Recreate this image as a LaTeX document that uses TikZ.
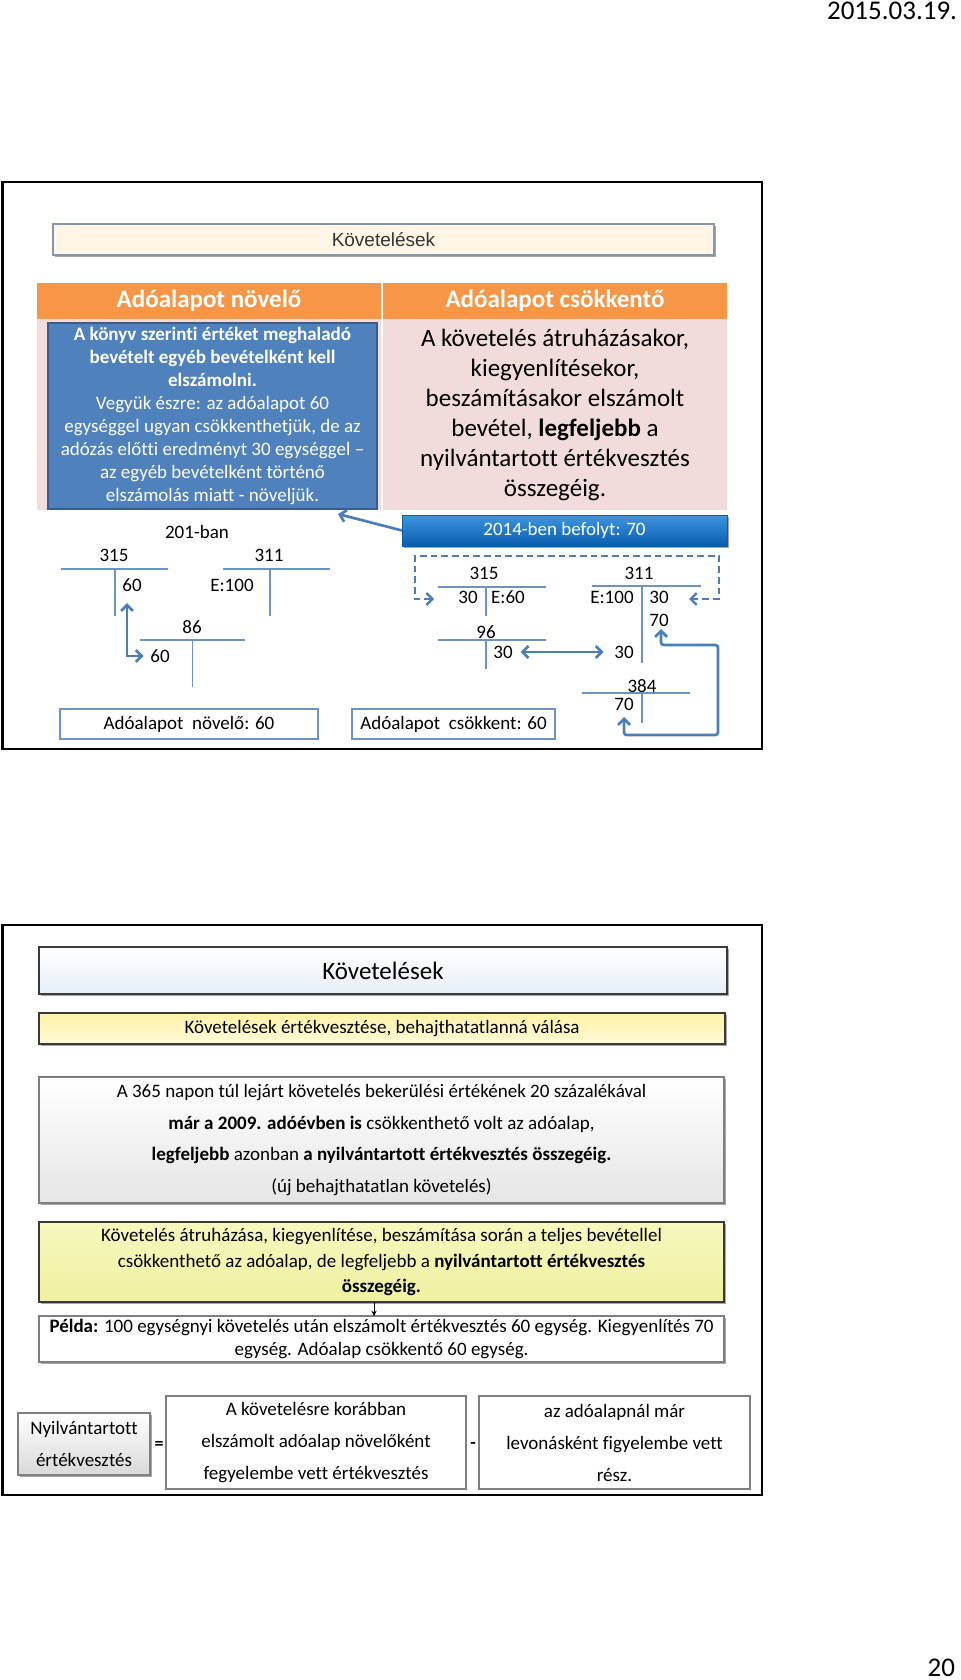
\documentclass[tikz,border=0pt]{standalone}
\usepackage{fontspec}
\setmainfont{Carlito}[Ligatures={NoCommon}]
\newfontfamily\arialf{Liberation Sans}
\usetikzlibrary{arrows.meta,shadows}
\definecolor{orng}{HTML}{F79646}
\definecolor{pinkc}{HTML}{F2DCDB}
\definecolor{bluefill}{HTML}{4F81BD}
\definecolor{blueedge}{HTML}{385D8A}
\definecolor{abl}{HTML}{4A7EBB}
\definecolor{tacc}{HTML}{6C93C6}
\definecolor{creamc}{HTML}{FFF6E6}
\definecolor{creamedge}{HTML}{8497B0}
\definecolor{btop}{HTML}{3D95E0}
\definecolor{bbot}{HTML}{0A5DAE}
\definecolor{ylwtop}{HTML}{FFF2A6}
\definecolor{ylwbot}{HTML}{FFFAD8}
\definecolor{gytop}{HTML}{F6F8BE}
\definecolor{gybot}{HTML}{EEF19F}
\definecolor{edgegray}{HTML}{7F7F7F}
\definecolor{edgedark}{HTML}{3A3A3A}
\definecolor{lbluebot}{HTML}{E6EFF7}
\tikzset{
  every node/.style={inner sep=0pt, outer sep=0pt},
  frame/.style={draw=black, line width=1.6pt},
  tnum/.style={font=\fontsize{14.25}{17}\selectfont},
  tline/.style={draw=tacc, line width=0.8pt},
  barrow/.style={draw=abl, line width=2pt, >={Straight Barb[length=4.5pt,width=9pt]}},
  shad/.style={drop shadow={shadow xshift=1.2pt,shadow yshift=-1.5pt,opacity=0.35,fill=black}},
  sumbox/.style={draw=tacc, line width=0.8pt, minimum height=22.5pt, font=\fontsize{14.25}{17}\selectfont},
  midtxt/.style={font=\fontsize{14.25}{24}\selectfont, align=center},
}
\begin{document}
\begin{tikzpicture}[x=0.75pt,y=-0.75pt]
\useasboundingbox (0,0) rectangle (960,1680);
\fill[white] (0,0) rectangle (960,1680);

% page header / footer
\node[anchor=east, font=\fontsize{20.25}{24}\selectfont] (date) at (957,10.5) {2015.03.19.};
\node[anchor=east, font=\fontsize{20.25}{24}\selectfont] (pnum) at (955,1667.5) {20};

% ================= top panel =================
\draw[frame] (2.5,182) rectangle (762,749);

\node[draw=creamedge, line width=1.5pt, fill=creamc, shad, minimum width=495.75pt, minimum height=23.25pt,
      font=\arialf\fontsize{14.25}{17}\selectfont, text=black!80] (ttl) at (383.5,239.5) {Követelések};

\node[fill=orng, minimum width=258pt, minimum height=27pt, text=white,
      font=\bfseries\fontsize{18.75}{22}\selectfont] (hl) at (209,301) {Adóalapot növelő};
\node[fill=orng, minimum width=258pt, minimum height=27pt, text=white,
      font=\bfseries\fontsize{18.75}{22}\selectfont] (hr) at (555,301) {Adóalapot csökkentő};

\node[fill=pinkc, minimum width=258pt, minimum height=143.25pt] (pl) at (209,414.5) {};
\node[fill=pinkc, minimum width=258pt, minimum height=143.25pt, align=center,
      font=\fontsize{18.75}{22.5}\selectfont] (pr) at (555,414.5)
  {A követelés átruházásakor,\\kiegyenlítésekor,\\beszámításakor elszámolt\\bevétel, \textbf{legfeljebb} a\\nyilvántartott értékvesztés\\összegéig.};

\node[fill=bluefill, draw=blueedge, line width=1.5pt, minimum width=246.75pt, minimum height=139.5pt,
      text=white, align=center, font=\fontsize{14.25}{17.25}\selectfont] (bb) at (212.5,416)
  {\textbf{A könyv szerinti értéket meghaladó}\\\textbf{bevételt egyéb bevételként kell}\\\textbf{elszámolni.}\\
   Vegyük észre: az adóalapot 60\\egységgel ugyan csökkenthetjük, de az\\adózás előtti eredményt 30 egységgel –\\az egyéb bevételként történő\\elszámolás miatt - növeljük.};

\node[top color=btop, bottom color=bbot, draw=bbot, shad, minimum width=243.75pt, minimum height=23.25pt,
      text=white, font=\fontsize{14.25}{17}\selectfont] (yr) at (564.5,530.5) {2014-ben befolyt: 70};
\coordinate (bbtip) at (338,514);
\draw[barrow,->] (yr.west) -- (bbtip);

% left T-accounts
\node[tnum] (l201) at (197,532) {201-ban};
\node[tnum] (l315) at (114,555) {315};
\draw[tline] (61,569) -- (168,569) (115,569) -- (115,616);
\node[tnum] (l315d) at (132,585) {60};
\node[tnum] (l311) at (269,555) {311};
\draw[tline] (223,569) -- (330,569) (270,569) -- (270,616);
\node[tnum] (l311c) at (232,585) {E:100};
\node[tnum] (l86) at (192,627) {86};
\draw[tline] (140,640) -- (245,640) (192.5,640) -- (192.5,687);
\node[tnum] (l86c) at (160,656) {60};
\coordinate (la) at (127,603);
\draw[barrow,<->,shorten >=5pt] (la) |- (l86c.west);

\node[sumbox, minimum width=193.5pt] (sumL) at (189,724) {Adóalapot\ \ növelő: 60};
\node[sumbox, minimum width=152.25pt] (sumR) at (453.5,724) {Adóalapot\ \ csökkent: 60};

% right T-accounts
\coordinate (dl) at (434,599);
\coordinate (dr) at (689,599);
\draw[barrow, line width=1.8pt, dash pattern=on 5pt off 3pt, <->] (dl) -- (415,599) -- (415,556) -- (719,556) -- (719,599) -- (dr);

\node[tnum] (r315) at (484,573) {315};
\draw[tline] (438,587) -- (546,587) (486,587) -- (486,616);
\node[tnum] (r315d) at (468,597) {30};
\node[tnum] (r315c) at (508,597) {E:60};
\node[tnum] (r311) at (639,573) {311};
\draw[tline] (592,586) -- (701,586) (642,586) -- (642,663);
\node[tnum] (r311d) at (612,597) {E:100};
\node[tnum] (r311c) at (659,597) {30};
\node[tnum] (r311c2) at (659,620) {70};
\node[tnum] (r311d2) at (624,652) {30};
\node[tnum] (r96) at (486,632) {96};
\draw[tline] (438,640) -- (546,640) (486,640) -- (486,669);
\node[tnum] (r96c) at (503,652) {30};
\draw[barrow,<->,shorten <=6pt,shorten >=8pt] (r96c.east) -- (r311d2.west);
\node[tnum] (r384) at (642,686) {384};
\draw[tline] (582,693) -- (690,693) (642,693) -- (642,723);
\node[tnum] (r384d) at (624,704) {70};
\coordinate (sa) at (624,717);
\coordinate (sb) at (661,629);
\draw[barrow,<->,rounded corners=2pt] (sa) -- (624,735) -- (718,735) -- (718,645) -- (661,645) -- (sb);

% ================= bottom panel =================
\draw[frame] (2.5,925) rectangle (762,1495);

\node[draw=edgedark, line width=1.3pt, top color=white, bottom color=lbluebot, shad,
      minimum width=516pt, minimum height=35.25pt, font=\fontsize{18.75}{22}\selectfont] (b1) at (383,970.5) {Követelések};

\node[draw=edgedark, line width=1.3pt, top color=ylwtop, bottom color=ylwbot, shad,
      minimum width=514.5pt, minimum height=23.25pt, font=\fontsize{14.25}{17}\selectfont] (b2) at (382,1028.5)
  {Követelések értékvesztése, behajthatatlanná válása};

\node[draw=edgegray, line width=1.3pt, top color=white, bottom color=black!10, shad,
      minimum width=513.75pt, minimum height=94.5pt, align=center, font=\fontsize{14.25}{23.8}\selectfont] (b3) at (381.5,1140)
  {A 365 napon túl lejárt követelés bekerülési értékének 20 százalékával\\
   \textbf{már a 2009. adóévben is} csökkenthető volt az adóalap,\\
   \textbf{legfeljebb} azonban \textbf{a nyilvántartott értékvesztés összegéig.}\\
   (új behajthatatlan követelés)};

\node[draw=edgedark, line width=1.3pt, top color=gytop, bottom color=gybot, shad,
      minimum width=513.75pt, minimum height=60pt, align=center, font=\fontsize{14.25}{19.1}\selectfont] (b4) at (381.5,1262)
  {Követelés átruházása, kiegyenlítése, beszámítása során a teljes bevétellel\\
   csökkenthető az adóalap, de legfeljebb a \textbf{nyilvántartott értékvesztés}\\
   \textbf{összegéig.}};

\node[draw=edgegray, line width=1.3pt, fill=white, shad,
      minimum width=513.75pt, minimum height=34.5pt, align=center, font=\fontsize{14.25}{17.25}\selectfont] (b5) at (381.5,1339)
  {\textbf{Példa:} 100 egységnyi követelés után elszámolt értékvesztés 60 egység. Kiegyenlítés 70\\
   egység. Adóalap csökkentő 60 egység.};

\draw[-{Stealth[length=4pt,width=4pt]}, line width=0.6pt] ([xshift=-5.6pt]b4.south) -- ([xshift=-5.6pt]b5.north);

\node[draw=edgegray, line width=1.2pt, top color=white, bottom color=black!15, shad,
      minimum width=99pt, minimum height=46.5pt, midtxt] (nyil) at (84,1444) {Nyilvántartott\\értékvesztés};
\node[font=\bfseries\fontsize{13.5}{16}\selectfont] (eq) at (159,1445) {=};
\node[draw=edgegray, line width=1pt, fill=white, minimum width=225pt, minimum height=69.75pt, midtxt] (mid) at (316,1442.5)
  {A követelésre korábban\\elszámolt adóalap növelőként\\fegyelembe vett értékvesztés};
\node[font=\bfseries\fontsize{13.5}{16}\selectfont] (minus) at (473,1445) {-};
\node[draw=edgegray, line width=1pt, fill=white, minimum width=203.25pt, minimum height=69.75pt, midtxt] (rgt) at (614.5,1442.5)
  {az adóalapnál már\\levonásként figyelembe vett\\rész.};
\end{tikzpicture}
\end{document}
